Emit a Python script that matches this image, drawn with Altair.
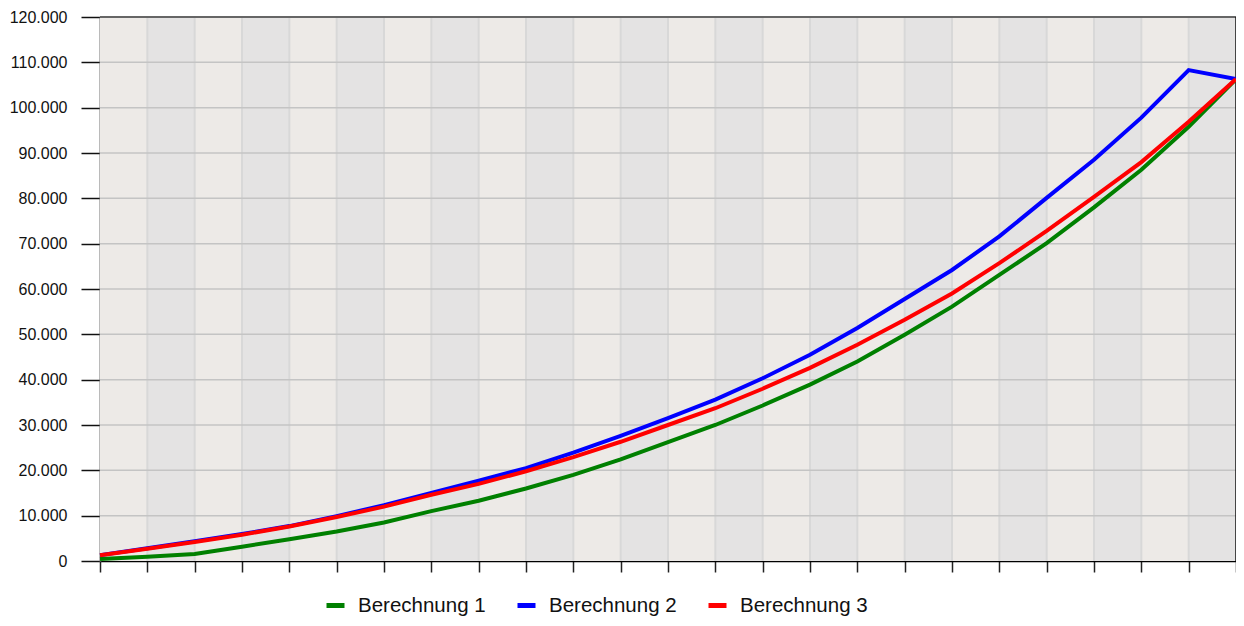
import altair as alt
import pandas as pd

# Data
steps = list(range(25))
berechnung_1 = [450, 950, 1550, 3150, 4800, 6500, 8500, 11000, 13300, 16000, 19000, 22400,
                26200, 30000, 34300, 38900, 44000, 49900, 56100, 63100, 70100, 78000, 86300,
                95800, 106300]
berechnung_2 = [1300, 2800, 4350, 5950, 7700, 9900, 12300, 15000, 17700, 20500, 23900, 27600,
                31500, 35600, 40300, 45500, 51400, 57800, 64200, 71600, 80100, 88500, 97800,
                108300, 106300]
berechnung_3 = [1250, 2700, 4200, 5800, 7600, 9700, 12000, 14600, 17000, 19800, 22900, 26300,
                30000, 33700, 38000, 42600, 47700, 53200, 59000, 65700, 72800, 80300, 88000,
                96900, 106300]
series_names = ["Berechnung 1", "Berechnung 2", "Berechnung 3"]
series_colors = ["#008000", "#0000ff", "#ff0000"]
y_ticks = [0, 10000, 20000, 30000, 40000, 50000, 60000, 70000, 80000, 90000, 100000, 110000, 120000]

rows = []
for name, vals in zip(series_names, [berechnung_1, berechnung_2, berechnung_3]):
    for s, v in zip(steps, vals):
        rows.append({"step": s, "value": v, "series": name})
df = pd.DataFrame(rows)

bands = pd.DataFrame({
    "i": steps[:-1],
    "i2": [s + 1 for s in steps[:-1]],
    "shade": ["#edeae7" if s % 2 == 0 else "#e4e3e3" for s in steps[:-1]],
})
vgrid = pd.DataFrame({"i": steps[1:-1]})
hgrid = pd.DataFrame({"v": y_ticks[1:-1]})
top = pd.DataFrame({"v": [y_ticks[-1]]})
right = pd.DataFrame({"i": [steps[-1]]})

W, H = 1136, 544
xs = alt.Scale(domain=[steps[0], steps[-1]], nice=False, zero=False)
ys = alt.Scale(domain=[y_ticks[0], y_ticks[-1]], nice=False)

x_axis = alt.Axis(values=steps, labels=False, title=None, grid=False, ticks=True,
                  tickSize=11, tickColor="#222", tickWidth=1.5,
                  domainColor="#000", domainWidth=1.5)
y_axis = alt.Axis(values=y_ticks, title=None, grid=False, tickSize=19, tickColor="#111",
                  tickWidth=1.5, domainColor="#777", domainWidth=2, labelPadding=14,
                  labelFontSize=16, labelFont="Liberation Sans", labelColor="#111",
                  labelExpr="replace(format(datum.value, ','), ',', '.')")

band_layer = alt.Chart(bands).mark_rect().encode(
    x=alt.X("i:Q", scale=xs, axis=x_axis),
    x2="i2:Q",
    y=alt.Y(datum=y_ticks[0], scale=ys, axis=y_axis),
    y2=alt.datum(y_ticks[-1]),
    fill=alt.Fill("shade:N", scale=None, legend=None),
)

vgrid_layer = alt.Chart(vgrid).mark_rule(color="#d8d8d8", strokeWidth=2).encode(
    x=alt.X("i:Q", scale=xs, axis=x_axis),
)
hgrid_layer = alt.Chart(hgrid).mark_rule(color="#c4c4c4", strokeWidth=1.5).encode(
    y=alt.Y("v:Q", scale=ys, axis=y_axis),
)
top_layer = alt.Chart(top).mark_rule(color="#666", strokeWidth=2).encode(
    y=alt.Y("v:Q", scale=ys, axis=y_axis),
)
right_layer = alt.Chart(right).mark_rule(color="#111", strokeWidth=1.5).encode(
    x=alt.X("i:Q", scale=xs, axis=x_axis),
)

lines = alt.Chart(df).mark_line(strokeWidth=4).encode(
    x=alt.X("step:Q", scale=xs, axis=x_axis),
    y=alt.Y("value:Q", scale=ys, axis=y_axis),
    color=alt.Color("series:N",
                    scale=alt.Scale(domain=series_names, range=series_colors),
                    legend=alt.Legend(title=None, orient="none", legendX=224, legendY=577,
                                      direction="horizontal", symbolType="stroke",
                                      symbolStrokeWidth=5, symbolSize=324,
                                      labelFontSize=20.5, labelFont="Liberation Sans",
                                      labelColor="#111", labelOffset=11,
                                      columnPadding=21, padding=0)),
    order=alt.Order("step:Q"),
)

chart = alt.layer(band_layer, vgrid_layer, hgrid_layer, top_layer, right_layer, lines).properties(
    width=W, height=H,
    autosize=alt.AutoSizeParams(type="none"),
    padding={"left": 92, "top": 9, "right": 0, "bottom": 57},
).configure_view(strokeWidth=0).configure(background="white")

chart.save("out.html", embed_options={"renderer": "svg", "actions": False})
